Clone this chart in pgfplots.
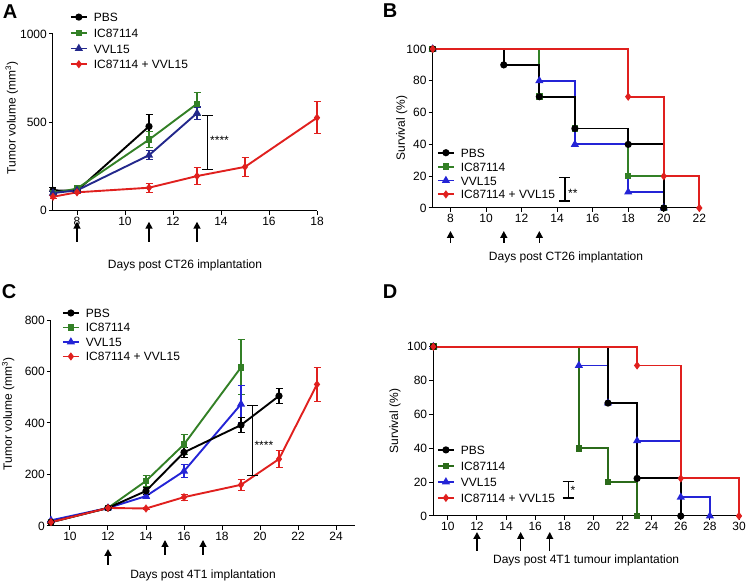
\documentclass[border=0pt]{standalone}
\usepackage{fontspec}
\setmainfont{Liberation Sans}
\usepackage{pgfplots}
\pgfplotsset{compat=1.18}
\usetikzlibrary{arrows.meta,calc}

\definecolor{kgreen}{HTML}{338026}
\definecolor{kgreenD}{HTML}{2B6B1A}
\definecolor{knavy}{HTML}{23288C}
\definecolor{kblue}{HTML}{2424D6}
\definecolor{kred}{HTML}{E0201E}

\newcommand\fs{\fontsize{12}{14}\selectfont}
% treatment-day arrow under the x axis: x, tail depth, tip depth, width
\newcommand\darrow[4]{\draw[-{Triangle[length=7pt,width=7pt]}, line width=#4]
  ($(axis cs:#1,0)+(0pt,-#2)$) -- ($(axis cs:#1,0)+(0pt,-#3)$);}
% significance bracket: x, y low, y high
\newcommand\sig[3]{\draw[line width=1.3pt] (axis cs:#1,#2) -- (axis cs:#1,#3);
  \draw[line width=1.3pt] ($(axis cs:#1,#2)+(-5.5pt,0pt)$) -- ($(axis cs:#1,#2)+(5.5pt,0pt)$);
  \draw[line width=1.3pt] ($(axis cs:#1,#3)+(-5.5pt,0pt)$) -- ($(axis cs:#1,#3)+(5.5pt,0pt)$);}

\pgfplotsset{
  gp/.style={
    scale only axis, clip=false,
    axis lines=left, axis line style={-, line width=1pt},
    tick align=outside, major tick length=4pt,
    tick style={line width=1pt, black},
    ticklabel style={font=\fs, inner sep=2pt},
    /pgf/number format/assume math mode=true,
    /pgf/number format/1000 sep={},
    label style={font=\fs},
    legend style={draw=none, fill=none, font=\fs, inner sep=0pt, outer sep=0pt,
      column sep=6pt, nodes={inner sep=0pt, text height=9pt, text depth=0pt}},
    legend cell align=left,
    legend image code/.code={\draw[mark repeat=2,mark phase=2,##1]
      plot coordinates {(0pt,0pt) (8pt,0pt) (16pt,0pt)};},
  },
  ln/.style={line width=1.9pt, mark options={solid}},
  eb/.style={error bars/y dir=both, error bars/y explicit,
    error bars/error bar style={line width=1.1pt},
    error bars/error mark options={rotate=90, mark size=3.5pt, line width=1.1pt}},
  pbs/.style={ln, mark=*, mark size=2.6pt},
  ic/.style={ln, mark=square*, mark size=2.3pt},
  vv/.style={ln, mark=triangle*, mark size=2.9pt},
  co/.style={ln, mark=diamond*, mark size=2.6pt},
}

\begin{document}
\begin{tikzpicture}
\useasboundingbox (0,0) rectangle (747pt,583pt);

% ---------------- A ----------------
\begin{axis}[gp, at={(53pt,372.3pt)}, anchor=south west,
  width=264pt, height=176.7pt,
  xmin=7, xmax=18, ymin=0, ymax=1000,
  xtick={8,10,...,18}, ytick={0,500,1000},
  xlabel={Days post CT26 implantation},
  ylabel={Tumor volume (mm\textsuperscript{3})},
  xlabel style={at={(axis description cs:0.5,-0.307)}, anchor=center},
  ylabel style={at={(axis description cs:-0.156,0.525)}, anchor=center},
  legend style={at={(axis description cs:0.064,1.121)}, anchor=north west, row sep=6.7pt}]
\addlegendimage{pbs, black}
\addlegendimage{ic, kgreen}
\addlegendimage{vv, knavy}
\addlegendimage{co, kred}
\addplot[pbs, black, eb, forget plot] table[x=x, y=y, y error=e] {
x y e
7 115 15
8 113 10
11 477 65
};
\addplot[ic, kgreen, eb, forget plot] table[x=x, y=y, y error=e] {
x y e
7 100 10
8 125 8
11 402 45
13 605 65
};
\addplot[vv, knavy, eb, forget plot] table[x=x, y=y, y error=e] {
x y e
7 100 10
8 115 8
11 314 25
13 552 35
};
\addplot[co, kred, eb, forget plot] table[x=x, y=y, y error=e] {
x y e
7 79 8
8 104 8
11 130 25
13 196 50
15 248 52
18 526 90
};
\legend{PBS, IC87114, VVL15, IC87114 + VVL15}
\sig{13.45}{235}{540}
\node[anchor=west, font=\fs, inner sep=1pt] at (axis cs:13.5,400) {****};
\darrow{8}{31pt}{11pt}{1.6pt}
\darrow{11}{31pt}{11pt}{1.6pt}
\darrow{13}{31pt}{11pt}{1.6pt}
\end{axis}

% ---------------- B ----------------
\begin{axis}[gp, at={(432.7pt,375pt)}, anchor=south west,
  width=266.6pt, height=159pt,
  xmin=7, xmax=22, ymin=0, ymax=100,
  xtick={8,10,...,22}, ytick={0,20,...,100},
  xlabel={Days post CT26 implantation},
  ylabel={Survival (\%)},
  xlabel style={at={(axis description cs:0.5,-0.308)}, anchor=center},
  ylabel style={at={(axis description cs:-0.116,0.503)}, anchor=center},
  legend style={at={(axis description cs:0.016,0.376)}, anchor=north west, row sep=4.9pt}]
\addlegendimage{pbs, black}
\addlegendimage{ic, kgreen}
\addlegendimage{vv, kblue}
\addlegendimage{co, kred}
\addplot[vv, kblue, const plot, forget plot] coordinates {
(7,100) (13,80) (15,40) (18,10) (20,0)};
\addplot[ic, kgreen, const plot, forget plot] coordinates {
(7,100) (13,70) (15,50) (18,20) (20,0)};
\addplot[pbs, black, const plot, forget plot] coordinates {
(7,100) (11,90) (13,70) (15,50) (18,40) (20,0)};
\addplot[co, kred, const plot, forget plot] coordinates {
(7,100) (18,70) (20,20) (22,0)};
\legend{PBS, IC87114, VVL15, IC87114 + VVL15}
\sig{14.44}{4.4}{19}
\node[anchor=west, font=\fs, inner sep=1pt] at (axis cs:14.55,9) {**};
\darrow{8}{35pt}{23pt}{1.6pt}
\darrow{11}{35pt}{23pt}{1.6pt}
\darrow{13}{35pt}{23pt}{1.6pt}
\end{axis}

% ---------------- C ----------------
\begin{axis}[gp, at={(51pt,57pt)}, anchor=south west,
  width=304pt, height=206pt,
  xmin=9, xmax=25, ymin=0, ymax=800,
  xtick={10,12,...,24}, ytick={0,200,...,800},
  xlabel={Days post 4T1 implantation},
  ylabel={Tumor volume (mm\textsuperscript{3})},
  xlabel style={at={(axis description cs:0.5,-0.238)}, anchor=center},
  ylabel style={at={(axis description cs:-0.141,0.544)}, anchor=center},
  legend style={at={(axis description cs:0.036,1.056)}, anchor=north west, row sep=5.5pt}]
\addlegendimage{pbs, black}
\addlegendimage{ic, kgreen}
\addlegendimage{vv, kblue}
\addlegendimage{co, kred}
\addplot[ic, kgreen, eb, forget plot] table[x=x, y=y, y error=e] {
x y e
9 15 5
12 70 5
14 175 20
16 317 40
19 616 107
};
\addplot[vv, kblue, eb, forget plot] table[x=x, y=y, y error=e] {
x y e
9 22 4
12 70 5
14 116 8
16 213 25
19 473 72
};
\addplot[pbs, black, eb, forget plot] table[x=x, y=y, y error=e] {
x y e
9 15 5
12 70 6
14 136 15
16 286 20
19 392 28
21 505 30
};
\addplot[co, kred, eb, forget plot] table[x=x, y=y, y error=e] {
x y e
9 15 5
12 70 5
14 68 5
16 112 12
19 160 22
21 260 32
23 550 67
};
\legend{PBS, IC87114, VVL15, IC87114 + VVL15}
\sig{19.6}{195}{468}
\node[anchor=west, font=\fs, inner sep=1pt] at (axis cs:19.65,315) {****};
\darrow{12}{39pt}{23pt}{2pt}
\darrow{15}{29pt}{14pt}{1.2pt}
\darrow{17}{29pt}{14pt}{1.2pt}
\end{axis}

% ---------------- D ----------------
\begin{axis}[gp, at={(433.3pt,67pt)}, anchor=south west,
  width=305.7pt, height=169.3pt,
  xmin=9, xmax=30, ymin=0, ymax=100,
  xtick={10,12,...,30}, ytick={0,20,...,100},
  xlabel={Days post 4T1 tumour implantation},
  ylabel={Survival (\%)},
  xlabel style={at={(axis description cs:0.5,-0.26)}, anchor=center},
  ylabel style={at={(axis description cs:-0.125,0.561)}, anchor=center},
  legend style={at={(axis description cs:0.012,0.417)}, anchor=north west, row sep=7pt}]
\addlegendimage{pbs, black}
\addlegendimage{ic, kgreenD}
\addlegendimage{vv, kblue}
\addlegendimage{co, kred}
\addplot[vv, kblue, const plot, forget plot] coordinates {
(9,100) (19,88.9) (21,66.7) (23,44.4) (26,11.1) (28,0)};
\addplot[ic, kgreenD, const plot, forget plot] coordinates {
(9,100) (19,40) (21,20) (23,0)};
\addplot[pbs, black, const plot, forget plot] coordinates {
(9,100) (21,66.7) (23,22.2) (26,0)};
\addplot[co, kred, const plot, forget plot] coordinates {
(9,100) (23,88.9) (26,22.2) (30,0)};
\legend{PBS, IC87114, VVL15, IC87114 + VVL15}
\sig{18.27}{10.6}{20.3}
\node[anchor=west, font=\fs, inner sep=1pt] at (axis cs:18.35,15) {*};
\darrow{12}{35pt}{16pt}{2pt}
\darrow{15}{35pt}{16pt}{1pt}
\darrow{17}{35pt}{16pt}{1pt}
\end{axis}

% panel letters
\node[font=\fontsize{20}{24}\selectfont\bfseries] at (10pt,571pt) {A};
\node[font=\fontsize{20}{24}\selectfont\bfseries] at (390pt,572pt) {B};
\node[font=\fontsize{20}{24}\selectfont\bfseries] at (9pt,291pt) {C};
\node[font=\fontsize{20}{24}\selectfont\bfseries] at (390pt,291pt) {D};
\end{tikzpicture}
\end{document}
